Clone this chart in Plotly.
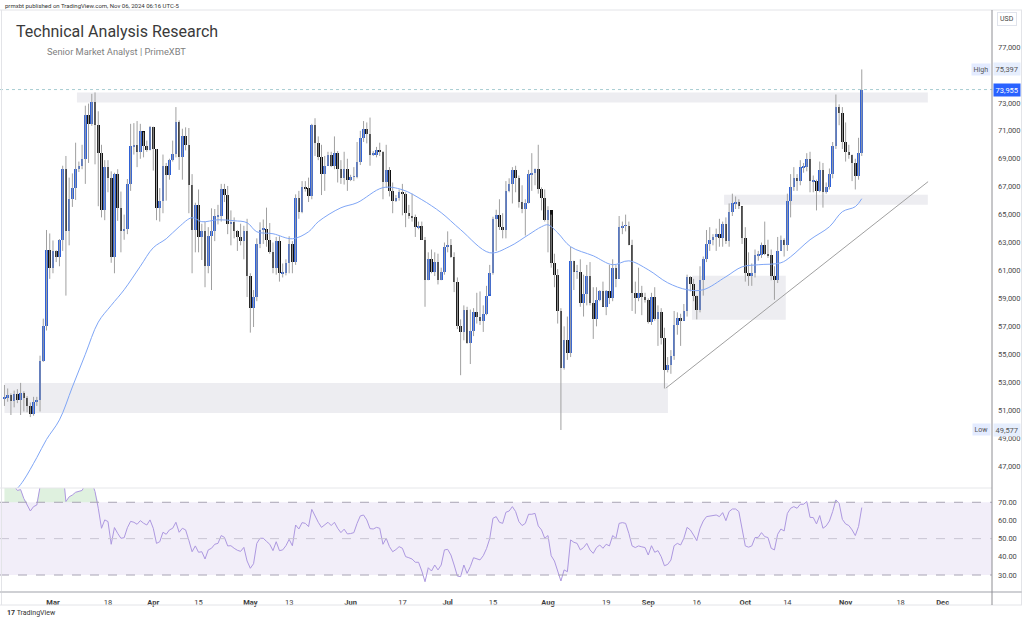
import plotly.graph_objects as go
import pandas as pd

# ---------------- DATA ----------------
start_date = "2024-02-15"

opens = [51800, 51900, 52100, 51650, 52150, 51750, 52250, 51850, 51300, 50750, 51570,
         51730, 54500, 57050, 62500, 61200, 62400, 62000, 63150, 68300, 63800,
         66100, 66900, 68300, 68500, 69000, 72100, 71500, 73100, 71400, 69400,
         65300, 68400, 67600, 62000, 67900, 65500, 63800, 64000, 67200, 69900,
         69950, 69500, 71000, 69900, 69600, 71300, 69700, 65500, 65950, 68500,
         67850, 68900, 69350, 71600, 69100, 70600, 70000, 67100, 63900, 65700,
         63400, 63800, 61300, 63500, 63800, 64900, 64900, 66800, 66400, 64300,
         64500, 63800, 63400, 63100, 63800, 60600, 58300, 59100, 62900, 63900,
         64000, 63200, 62300, 61200, 63100, 60800, 60800, 61500, 62900, 61600,
         66200, 65200, 67000, 66900, 66300, 71400, 70100, 69100, 67900, 68500,
         69300, 68500, 69400, 68300, 67600, 68300, 67500, 67700, 67700, 68800,
         70500, 71100, 70800, 69300, 69300, 69600, 69500, 67300, 68200, 66700,
         66000, 66200, 66600, 66500, 65100, 64900, 64800, 64100, 64200, 63200,
         60300, 61800, 60900, 61600, 60300, 60900, 62700, 62800, 62000, 60200,
         57000, 56600, 58200, 55800, 56700, 58000, 57700, 57400, 57900, 59200,
         60800, 64700, 65000, 64100, 63900, 66700, 67200, 68200, 67600, 65900,
         65400, 65800, 67900, 68000, 68300, 66800, 66200, 64600, 65300, 61500,
         60700, 58100, 54000, 56000, 55100, 61700, 60900, 60900, 58700, 59300,
         60600, 58700, 57500, 58900, 59500, 58400, 59500, 59000, 61200, 60400,
         64100, 64200, 64200, 62800, 59400, 59000, 59400, 59100, 58900, 57300,
         59100, 57500, 58000, 56200, 53900, 54200, 54900, 57100, 57600, 57400,
         58100, 60500, 60000, 59200, 58200, 60300, 61800, 62900, 63200, 63400,
         63600, 63300, 64300, 63100, 65200, 65800, 65900, 65600, 63300, 60800,
         60600, 60800, 62100, 62100, 62800, 62200, 62100, 60600, 60300, 62400,
         63200, 62800, 66000, 67000, 67600, 67400, 68400, 68400, 69000, 67400,
         67400, 66700, 68200, 66600, 67000, 67900, 69900, 72700, 72300, 70200,
         69500, 69300, 68700, 67800, 69400]

highs = [52800, 52550, 52200, 52400, 52500, 52950, 52350, 52000, 51550, 51950, 51950,
         54900, 57550, 63900, 63650, 63150, 62450, 63250, 68500, 69200, 67650,
         67950, 70150, 68800, 70000, 72800, 72950, 73650, 73750, 72400, 70000,
         68900, 68900, 68100, 68000, 68250, 66650, 65000, 67550, 71500, 71550,
         71700, 71500, 70900, 70300, 71350, 71300, 69700, 66900, 69300, 68700,
         69000, 70300, 72700, 71750, 71150, 71250, 71200, 67900, 65850, 66800,
         64350, 64500, 64100, 65450, 65400, 65700, 67200, 67200, 67050, 65300,
         64800, 63900, 64350, 64200, 64700, 60800, 59600, 63300, 64450, 64650,
         65500, 64400, 63000, 63400, 63450, 61500, 61800, 63450, 63100, 66450,
         66700, 67400, 67400, 67650, 71500, 71900, 70600, 70000, 69200, 69500,
         69500, 70600, 69550, 68900, 69500, 69000, 67850, 68400, 70200, 71000,
         71700, 71600, 71950, 69550, 69850, 70150, 69550, 70000, 68400, 67300,
         66400, 66800, 67200, 66600, 65700, 66500, 65000, 64500, 64500, 63400,
         62300, 62500, 62300, 62200, 61200, 63000, 63800, 63250, 62300, 60500,
         57500, 58500, 58400, 58200, 58300, 59400, 59500, 58500, 59900, 61400,
         64850, 65350, 66100, 65100, 67400, 67600, 68400, 68500, 67800, 67100,
         66100, 68200, 69400, 68300, 70000, 66950, 66800, 65600, 65000, 62200,
         61100, 58300, 57000, 57700, 62700, 61700, 61400, 61800, 60700, 61400,
         61600, 59800, 59800, 59600, 60200, 59600, 61400, 61800, 61400, 64900,
         64500, 65000, 64500, 63200, 60200, 61200, 59900, 59400, 59000, 59400,
         59800, 58500, 58300, 56900, 54800, 55300, 58100, 58000, 57900, 58600,
         60700, 60600, 60400, 59200, 61300, 62000, 63900, 64100, 63600, 64000,
         64700, 64500, 64800, 65800, 66500, 66300, 66100, 65600, 64100, 62300,
         61500, 62500, 62400, 63000, 64500, 63200, 62500, 61300, 63400, 63500,
         63300, 66500, 67900, 68400, 67900, 68900, 68700, 69400, 69500, 67800,
         67500, 68800, 68700, 67300, 68300, 70200, 73600, 72900, 72700, 71600,
         70000, 69300, 69000, 70500, 75397]

lows = [51300, 51600, 50650, 51200, 51500, 50650, 50900, 50850, 50500, 50600, 51300,
        50900, 54450, 56700, 60400, 60800, 61600, 61300, 62400, 59200, 62800,
        65550, 66050, 68050, 68250, 67200, 68700, 71350, 68600, 65600, 64800,
        64600, 66600, 61550, 60800, 64550, 62300, 63200, 63600, 66700, 69300,
        68400, 69000, 69100, 69500, 69600, 68150, 64600, 64500, 65100, 66000,
        67500, 68800, 69100, 68200, 67500, 69600, 65100, 60800, 62300, 62300,
        61750, 59800, 60800, 59600, 63100, 64300, 64500, 65900, 63600, 62800,
        63300, 62400, 62800, 61800, 59100, 56550, 56950, 58800, 62600, 62900,
        62700, 62200, 60800, 60700, 60200, 60500, 60650, 60800, 60800, 61400,
        64700, 65100, 66650, 65900, 66100, 69200, 68900, 66400, 66700, 68500,
        68400, 68250, 67300, 67200, 67150, 66700, 67400, 67400, 67600, 68550,
        70200, 70100, 68500, 69200, 69100, 69200, 66100, 66900, 66300, 65100,
        65900, 66000, 64950, 64100, 64700, 64500, 63400, 63950, 63200, 58400,
        60300, 60800, 60600, 60000, 60300, 60700, 62300, 61900, 59450, 56800,
        53500, 56000, 55750, 54300, 56300, 57200, 57100, 56600, 57800, 59300,
        60700, 62400, 63900, 63300, 63300, 66600, 65800, 66600, 65500, 65100,
        63500, 65800, 66700, 67100, 66500, 65300, 64500, 62300, 61200, 59800,
        57200, 49577, 53900, 54600, 54800, 59600, 60400, 58400, 57700, 58500,
        58500, 56100, 57000, 58800, 58400, 57800, 58600, 58800, 59800, 60400,
        63600, 63800, 62800, 58100, 57900, 58800, 57800, 58700, 57200, 57100,
        57400, 55600, 55700, 52550, 53700, 53600, 54600, 56400, 55600, 57400,
        57700, 59500, 58800, 57500, 58000, 59200, 61600, 62400, 62800, 62400,
        62700, 62700, 62900, 62700, 64900, 65400, 65400, 62900, 60200, 59900,
        59900, 60500, 61700, 61900, 62100, 61900, 60300, 58900, 60100, 62400,
        62000, 62400, 64800, 66700, 66700, 67100, 68000, 68100, 66600, 66600,
        65300, 66600, 65500, 66500, 66800, 67600, 69700, 71400, 69700, 68800,
        69000, 67400, 66800, 67500, 69200]

closes = [51900, 52100, 51650, 52150, 51750, 52250, 51850, 51300, 50750, 51570, 51730,
          54500, 57050, 62500, 61200, 62400, 62000, 63150, 68300, 63800, 66100,
          66900, 68300, 68500, 69000, 72100, 71500, 73100, 71400, 69400, 65300,
          68400, 67600, 62000, 67900, 65500, 63800, 64000, 67200, 69900, 69950,
          69500, 71000, 69900, 69600, 71300, 69700, 65500, 65950, 68500, 67850,
          68900, 69350, 71600, 69100, 70600, 70000, 67100, 63900, 65700, 63400,
          63800, 61300, 63500, 63800, 64900, 64900, 66800, 66400, 64300, 64500,
          63800, 63400, 63100, 63800, 60600, 58300, 59100, 62900, 63900, 64000,
          63200, 62300, 61200, 63100, 60800, 60800, 61500, 62900, 61600, 66200,
          65200, 67000, 66900, 66300, 71400, 70100, 69100, 67900, 68500, 69300,
          68500, 69400, 68300, 67600, 68300, 67500, 67700, 67700, 68800, 70500,
          71100, 70800, 69300, 69300, 69600, 69500, 67300, 68200, 66700, 66000,
          66200, 66600, 66500, 65100, 64900, 64800, 64100, 64200, 63200, 60300,
          61800, 60900, 61600, 60300, 60900, 62700, 62800, 62000, 60200, 57000,
          56600, 58200, 55800, 56700, 58000, 57700, 57400, 57900, 59200, 60800,
          64700, 65000, 64100, 63900, 66700, 67200, 68200, 67600, 65900, 65400,
          65800, 67900, 68000, 68300, 66800, 66200, 64600, 65300, 61500, 60700,
          58100, 54000, 56000, 55100, 61700, 60900, 60900, 58700, 59300, 60600,
          58700, 57500, 58900, 59500, 58400, 59500, 59000, 61200, 60400, 64100,
          64200, 64200, 62800, 59400, 59000, 59400, 59100, 58900, 57300, 59100,
          57500, 58000, 56200, 53900, 54200, 54900, 57100, 57600, 57400, 58100,
          60500, 60000, 59200, 58200, 60300, 61800, 62900, 63200, 63400, 63600,
          63300, 64300, 63100, 65200, 65800, 65900, 65600, 63300, 60800, 60600,
          60800, 62100, 62100, 62800, 62200, 62100, 60600, 60300, 62400, 63200,
          62800, 66000, 67000, 67600, 67400, 68400, 68400, 69000, 67400, 67400,
          66700, 68200, 66600, 67000, 67900, 69900, 72700, 72300, 70200, 69500,
          69300, 68700, 67800, 69400, 73955]

rsi = [80, 80.5, 78, 79, 76.5, 77, 72, 68.5, 65.2, 67.6, 68.5,
       78.5, 82, 87, 84, 85, 84, 85, 89, 70.4, 73,
       74, 75.5, 75.8, 76.5, 80, 79, 81, 75.9, 66.7, 55.7,
       60.3, 59.4, 46.9, 56.1, 52.9, 50.2, 50.5, 56, 59.5, 59,
       57.9, 59.9, 58.5, 57.5, 60.3, 55.7, 47.4, 48.3, 53.5, 52.4,
       54.8, 55.7, 59, 53.5, 55.7, 54.8, 49, 42.8, 46, 42.5,
       42.8, 38.8, 43.8, 44.7, 46.9, 47.4, 51.7, 50.7, 46.0, 46.1,
       44.7, 43.6, 43.0, 45.2, 37.7, 33.7, 36.2, 47.4, 50.2, 50.2,
       48.5, 46.9, 43.4, 48.3, 43.4, 43.8, 46.1, 49.6, 46.1, 57.5,
       55.3, 58.8, 58.4, 56.6, 66.1, 62.1, 59, 56.2, 57.5, 59,
       57.2, 59, 55.7, 53.3, 55.2, 52.6, 52.8, 53.3, 58.4, 62.5,
       63, 60.3, 55.5, 55.3, 56.2, 55.7, 46.9, 50.2, 45.6, 42.8,
       44, 45.6, 44.7, 40.1, 39.5, 38.8, 37, 37, 32.2, 26.3,
       34, 32.2, 35.5, 32.8, 35.5, 43.8, 44.1, 41, 35.5, 29.4,
       29.1, 35.5, 30.9, 34.6, 39.5, 38.8, 38.3, 40.6, 44.5, 50,
       61.2, 62.1, 59, 58.4, 64.5, 65.2, 67.6, 64.9, 59.4, 57.2,
       58.4, 63.4, 63.4, 63.9, 57, 54.8, 50.2, 51.7, 40.6, 37.7,
       31.8, 26.7, 32.8, 31.8, 49.3, 48, 47.4, 43.8, 45.1, 47.4,
       43.8, 41.9, 45.1, 46.5, 44.7, 46.9, 46, 51.7, 50.2, 58.4,
       58.8, 58.4, 52.9, 46, 45.1, 46, 45.5, 45.1, 41, 46.1,
       42.5, 43.4, 40.1, 35.1, 35.8, 38.2, 46.1, 47.4, 46.5, 50.2,
       56.2, 54.8, 52, 48.9, 55.7, 59.7, 62.1, 62.3, 62.5, 63,
       62.1, 64.3, 59.9, 64.9, 66.3, 66.3, 64.9, 54.8, 46, 45.3,
       46, 50.6, 50.7, 53.3, 51.1, 50.6, 44.7, 43.8, 52.4, 55.3,
       54.2, 63.9, 66.7, 67.6, 66.7, 68.9, 68.9, 70.4, 61.7, 61.6,
       58.1, 62.7, 55.7, 57, 59.7, 64.9, 71.3, 69.4, 60.6, 58.1,
       57.2, 54.8, 51.7, 56.7, 67.1]

ema_dates = ["2024-02-15", "2024-02-17", "2024-02-19", "2024-02-21", "2024-02-25", "2024-02-28",
             "2024-03-03", "2024-03-07", "2024-03-11", "2024-03-15", "2024-03-19",
             "2024-03-23", "2024-03-28", "2024-04-01", "2024-04-05", "2024-04-09",
             "2024-04-13", "2024-04-16", "2024-04-21", "2024-04-26", "2024-04-30",
             "2024-05-03", "2024-05-08", "2024-05-14", "2024-05-19", "2024-05-22",
             "2024-05-29", "2024-06-03", "2024-06-11", "2024-06-17", "2024-06-23",
             "2024-06-29", "2024-07-05", "2024-07-14", "2024-07-20", "2024-07-26",
             "2024-07-30", "2024-08-01", "2024-08-04", "2024-08-08", "2024-08-15",
             "2024-08-21", "2024-08-26", "2024-09-01", "2024-09-07", "2024-09-13",
             "2024-09-18", "2024-09-25", "2024-09-30", "2024-10-05", "2024-10-12",
             "2024-10-15", "2024-10-21", "2024-10-27", "2024-10-31", "2024-11-04",
             "2024-11-06"]
ema_values = [44600, 45000, 45400, 46000, 47600, 48900,
              50300, 52660, 55000, 57300, 58500,
              59620, 61300, 62630, 63270, 64130,
              64780, 64490, 64630, 64560, 64420,
              63770, 63630, 63270, 63770, 64490,
              65490, 65850, 66930, 66780, 66070,
              65140, 63920, 62270, 62700, 63560,
              64130, 64270, 63700, 62700, 62050,
              61410, 61690, 61050, 60120, 59620,
              59620, 60550, 61260, 61410, 61550,
              61980, 63200, 64130, 65210, 65570,
              66140]

# drawn zones (start, end, low, high)
zone_start = ["2024-03-08 09:36", "2024-02-15 00:00", "2024-09-14 12:00", "2024-09-24 10:00"]
zone_end = ["2024-11-26 10:00", "2024-09-07 02:00", "2024-10-13 12:00", "2024-11-26 10:00"]
zone_low = [73020, 50800, 57470, 65710]
zone_high = [73740, 52950, 60620, 66430]

# trend line (two anchors)
trend_dates = ["2024-09-06 10:00", "2024-11-26 12:00"]
trend_prices = [52570, 67360]

# axis ticks (75,000 sits under the "High" marker label)
price_ticks = [47000, 49000, 51000, 53000, 55000, 57000, 59000, 61000, 63000,
               65000, 67000, 69000, 71000, 73000, 77000]
rsi_ticks = [30, 40, 50, 60, 70]
rsi_levels = [70, 50, 30]
time_tick_dates = ["2024-03-01", "2024-03-18", "2024-04-01", "2024-04-15", "2024-05-01",
                   "2024-05-13", "2024-06-01", "2024-06-17", "2024-07-01", "2024-07-15",
                   "2024-08-01", "2024-08-19", "2024-09-01", "2024-09-16", "2024-10-01",
                   "2024-10-14", "2024-11-01", "2024-11-18", "2024-12-01"]
time_tick_labels = ["Mar", "18", "Apr", "15", "May", "13", "Jun", "17", "Jul", "15",
                    "Aug", "19", "Sep", "16", "Oct", "14", "Nov", "18", "Dec"]
x_range = ["2024-02-13 15:00", "2024-12-16 06:00"]

# ---------------- FIGURE ----------------
W, H = 1024, 621
PL, PR, PT, PB = 0, 32, 10, 29            # plot-area margins (px)
PW, PH = W - PL - PR, H - PT - PB
SPLIT = 488                                # px where price pane ends


def px_x(x):
    return (x - PL) / PW


def px_y(y):
    return (H - PB - y) / PH


dates = pd.date_range(start_date, periods=len(closes), freq="D")
BLUE = "#2f61d6"
BLACK = "#111111"
FONT = "Roboto"

fig = go.Figure()

# wicks
wx, wy = [], []
for d, lo, hi in zip(dates, lows, highs):
    wx += [d, d, None]
    wy += [lo, hi, None]
fig.add_trace(go.Scatter(x=wx, y=wy, mode="lines", line=dict(color="#a0a0a0", width=1),
                         hoverinfo="skip", showlegend=False, xaxis="x", yaxis="y"))

# bodies
body_base = [min(o, c) for o, c in zip(opens, closes)]
body_len = [max(abs(c - o), 45) for o, c in zip(opens, closes)]
body_col = [BLUE if c >= o else BLACK for o, c in zip(opens, closes)]
fig.add_trace(go.Bar(x=dates, y=body_len, base=body_base, marker=dict(color=body_col, line=dict(width=0)),
                     width=0.82 * 86400000, showlegend=False, xaxis="x", yaxis="y"))

# moving average
fig.add_trace(go.Scatter(x=ema_dates, y=ema_values, mode="lines", line=dict(color="#7fa6f6", width=1),
                         line_shape="spline", showlegend=False, xaxis="x", yaxis="y"))

# RSI overbought fill
ob_level = [70] * len(rsi)
ob_top = [max(v, 70) for v in rsi]
fig.add_trace(go.Scatter(x=dates, y=ob_level, mode="lines", line=dict(width=0, color="rgba(0,0,0,0)"),
                         showlegend=False, xaxis="x", yaxis="y2", hoverinfo="skip"))
fig.add_trace(go.Scatter(x=dates, y=ob_top, mode="lines", line=dict(width=0, color="rgba(0,0,0,0)"),
                         fill="tonexty", fillcolor="rgba(76,175,80,0.18)",
                         showlegend=False, xaxis="x", yaxis="y2", hoverinfo="skip"))
# RSI line
fig.add_trace(go.Scatter(x=dates, y=rsi, mode="lines", line=dict(color="#ad98e0", width=1),
                         showlegend=False, xaxis="x", yaxis="y2"))

shapes = []
# zones
for s, e, lo, hi in zip(zone_start, zone_end, zone_low, zone_high):
    shapes.append(dict(type="rect", xref="x", yref="y", x0=s, x1=e, y0=lo, y1=hi,
                       fillcolor="rgba(215,216,224,0.45)", line=dict(width=0), layer="below"))
# trend line
shapes.append(dict(type="line", xref="x", yref="y", x0=trend_dates[0], x1=trend_dates[1],
                   y0=trend_prices[0], y1=trend_prices[1], line=dict(color="#a0a0a0", width=1)))
# last price dotted line
shapes.append(dict(type="line", xref="paper", yref="y", x0=0, x1=1, y0=closes[-1], y1=closes[-1],
                   line=dict(color="rgba(110,170,180,0.6)", width=1, dash="dot")))
# RSI band + levels
shapes.append(dict(type="rect", xref="paper", yref="y2", x0=0, x1=1, y0=rsi_levels[2], y1=rsi_levels[0],
                   fillcolor="rgba(126,87,194,0.10)", line=dict(width=0), layer="below"))
for lv in rsi_levels:
    shapes.append(dict(type="line", xref="paper", yref="y2", x0=0, x1=1, y0=lv, y1=lv,
                       line=dict(color="#a8a4b4" if lv != 50 else "#c9c5d3", width=1, dash="dash")))
# frame lines
shapes += [
    dict(type="line", xref="paper", yref="paper", x0=0, x1=px_x(1022), y0=1, y1=1,
         line=dict(color="#e3e4e8", width=1)),
    dict(type="line", xref="paper", yref="paper", x0=px_x(1.5), x1=px_x(1.5), y0=px_y(605), y1=1,
         line=dict(color="#e3e4e8", width=1)),
    dict(type="line", xref="paper", yref="paper", x0=px_x(1021.5), x1=px_x(1021.5), y0=px_y(605), y1=1,
         line=dict(color="#e3e4e8", width=1)),
    dict(type="line", xref="paper", yref="paper", x0=0, x1=1, y0=px_y(SPLIT), y1=px_y(SPLIT),
         line=dict(color="#e6e7ea", width=1)),
    dict(type="line", xref="paper", yref="paper", x0=0, x1=px_x(1022), y0=0, y1=0,
         line=dict(color="#cfd0d4", width=2)),
    dict(type="line", xref="paper", yref="paper", x0=0, x1=px_x(1022), y0=px_y(605), y1=px_y(605),
         line=dict(color="#e3e4e8", width=1)),
    dict(type="line", xref="paper", yref="paper", x0=1, x1=1, y0=px_y(605), y1=1,
         line=dict(color="#8e8e93", width=1)),
]

ann = []


def text(x, y, t, size, color, xanchor="left", **kw):
    ann.append(dict(xref="paper", yref="paper", x=px_x(x), y=px_y(y), text=t, showarrow=False,
                    xanchor=xanchor, yanchor="middle", font=dict(family=FONT, size=size, color=color), **kw))


text(3, 5, "prmxbt published on TradingView.com, Nov 06, 2024 06:16 UTC-5", 6, "#333333")
text(14, 32, "Technical Analysis Research", 16, "#3a3a3a")
text(45, 52, "Senior Market Analyst | PrimeXBT", 9.3, "#808080")
text(5, 613, "<b>17</b> TradingView", 7, "#333333")
text(1007, 19, "USD", 7, "#444444", xanchor="center", bordercolor="#e0e3eb", borderwidth=1,
     borderpad=2, bgcolor="#ffffff")

hi_val = max(highs)
lo_val = min(lows)
LBL = "rgba(41,98,255,0.13)"
for val, name in [(hi_val, "High"), (lo_val, "Low")]:
    ann.append(dict(xref="paper", yref="y", x=px_x(991), y=val, text=name, showarrow=False,
                    xanchor="right", yanchor="middle", bgcolor=LBL, borderpad=1.5,
                    font=dict(family=FONT, size=7, color="#555555")))
    ann.append(dict(xref="paper", yref="y", x=px_x(993), y=val, text=f"{val:,.0f}", showarrow=False,
                    xanchor="left", yanchor="middle", bgcolor="#e6eefd", borderpad=1.5,
                    font=dict(family=FONT, size=7.5, color="#555555")))
ann.append(dict(xref="paper", yref="y", x=px_x(992.5), y=closes[-1], text=f"{closes[-1]:,.0f}",
                showarrow=False, xanchor="left", yanchor="middle", bgcolor="#2962ff", borderpad=1.5,
                font=dict(family=FONT, size=7.5, color="#ffffff")))

tick_text = [f"<b>{t}</b>" if not t.isdigit() else t for t in time_tick_labels]

fig.update_layout(
    width=W, height=H,
    margin=dict(l=PL, r=PR, t=PT, b=PB, pad=0),
    paper_bgcolor="#ffffff", plot_bgcolor="#ffffff",
    showlegend=False, barmode="overlay", bargap=0,
    shapes=shapes, annotations=ann,
    font=dict(family=FONT),
    xaxis=dict(domain=[0, 1], anchor="y2", type="date", range=x_range, showgrid=False, zeroline=False,
               tickmode="array", tickvals=time_tick_dates, ticktext=tick_text, ticks="",
               tickfont=dict(size=7.5, color="#3c3c3c"), showline=False, ticklabelstandoff=4),
    yaxis=dict(domain=[px_y(SPLIT), 1], anchor="x", side="right", range=[45423, 79652],
               showgrid=False, zeroline=False, tickmode="array", tickvals=price_ticks,
               ticktext=[f"{v:,}" for v in price_ticks], ticks="",
               tickfont=dict(size=7.5, color="#4a4a4a"), ticklabelstandoff=5),
    yaxis2=dict(domain=[0, px_y(SPLIT)], anchor="x", side="right", range=[20.65, 77.85],
                showgrid=False, zeroline=False, tickmode="array", tickvals=rsi_ticks,
                ticktext=[f"{v:.2f}" for v in rsi_ticks], ticks="",
                tickfont=dict(size=7.5, color="#4a4a4a"), ticklabelstandoff=5),
)

fig.write_html("out.html")
